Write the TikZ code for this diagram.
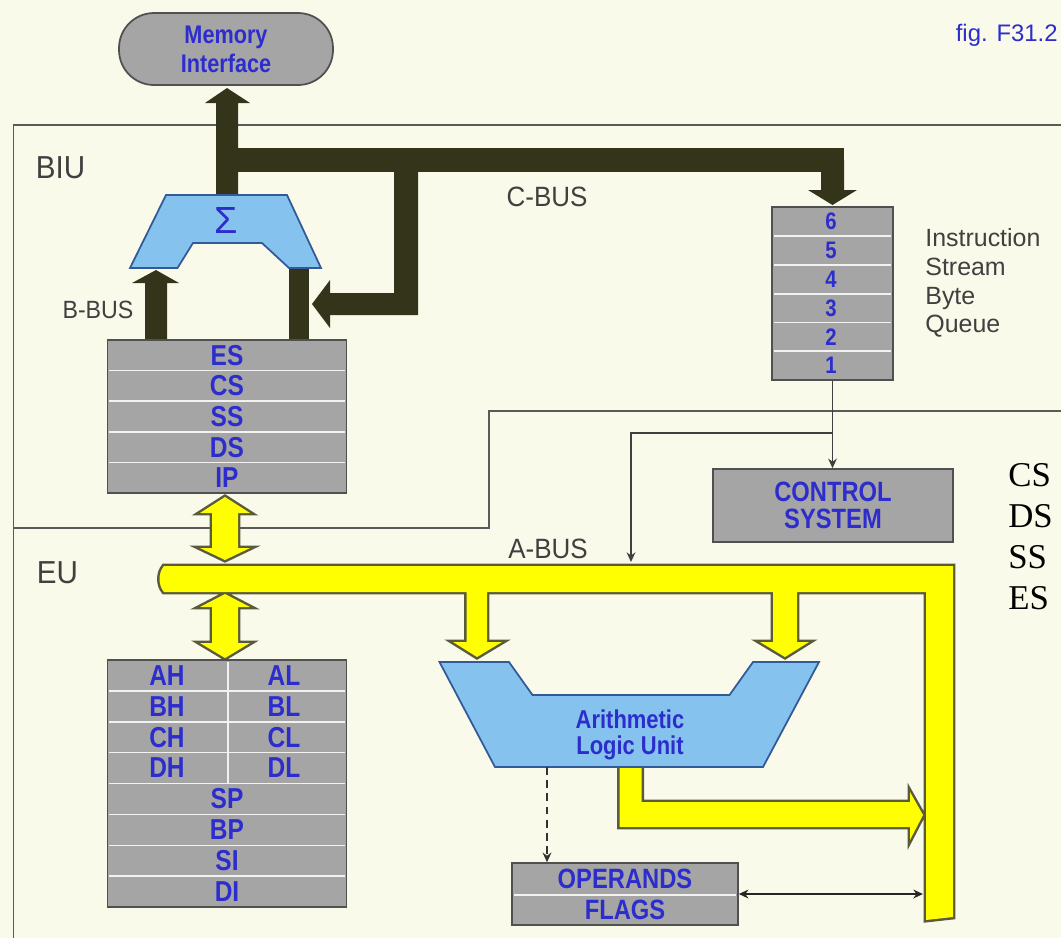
\documentclass[tikz,border=0pt]{standalone}
\usepackage{fontspec}
\setmainfont{Liberation Sans}
\newfontfamily\bluefont[FakeStretch=0.85]{Liberation Sans Bold}
\newfontfamily\grayfont[FakeStretch=0.93]{Liberation Sans}
\newfontfamily\serifface{Liberation Serif}
\usetikzlibrary{arrows.meta,calc}
\definecolor{bg}{RGB}{250,250,234}
\definecolor{boxgray}{RGB}{165,165,165}
\definecolor{boxedge}{RGB}{80,80,80}
\definecolor{txtblue}{RGB}{45,45,205}
\definecolor{labgray}{RGB}{64,64,64}
\definecolor{cbus}{RGB}{52,52,26}
\definecolor{alublue}{RGB}{134,194,238}
\definecolor{aluedge}{RGB}{50,90,150}
\definecolor{ybus}{RGB}{255,255,0}
\definecolor{yedge}{RGB}{90,90,60}
\definecolor{framec}{RGB}{90,90,90}
\tikzset{
  boxst/.style={draw=boxedge,fill=boxgray,line width=0.9pt,rectangle,inner sep=0pt},
  bluelbl/.style={text=txtblue,inner sep=0pt,align=center},
  graylbl/.style={text=labgray,inner sep=0pt},
  sepline/.style={draw=white!90!gray,line width=0.85pt},
  thinconn/.style={draw=black!75,line width=0.8pt},
  ypassA/.style={draw=yedge,line width=2.8pt},
  ypassB/.style={fill=ybus},
  smallhead/.style={-{Stealth[length=5.5pt,width=5pt]}},
}
\begin{document}
\begin{tikzpicture}[x=0.02cm,y=-0.02cm]
\useasboundingbox (0,0) rectangle (1061,938);
\fill[bg] (0,0) rectangle (1061,938);

% frames BIU / EU
\draw[draw=framec,line width=1.1pt] (1061,125) -- (13.5,125) -- (13.5,938);
\draw[draw=framec,line width=1.1pt] (13.5,528) -- (489,528) -- (489,411) -- (1061,411);

% memory interface
\node[boxst,rounded corners=0.7cm,minimum width=4.28cm,minimum height=1.44cm,line width=1pt,
      text=txtblue,align=center,font=\bluefont\fontsize{14.5}{16.4}\selectfont] (mem) at (226,49) {Memory\\Interface};

% C-BUS / B-BUS (dark)
\fill[cbus] (216,196) -- (216,103) -- (205,103) -- (227,88) -- (250,103) -- (238,103) -- (238,196) -- cycle;
\fill[cbus] (238,148) rectangle (844,172);
\fill[cbus] (821,160) -- (844,160) -- (844,190) -- (857,190) -- (832.5,205) -- (808,190) -- (821,190) -- cycle;
\fill[cbus] (394,160) -- (418,160) -- (418,315) -- (330,315) -- (330,328) -- (312,304) -- (330,280) -- (330,293) -- (394,293) -- cycle;
\fill[cbus] (145,345) -- (145,283) -- (132,283) -- (156,270) -- (179,283) -- (167,283) -- (167,345) -- cycle;
\fill[cbus] (289,262) rectangle (309,345);

% sigma adder
\draw[fill=alublue,draw=aluedge,line width=1pt] (166,195) -- (287,195) -- (321,268) -- (289,268) -- (262,243) -- (193,243) -- (177.5,268) -- (130,268) -- cycle;
\node[text=txtblue,font=\fontsize{21.5}{22}\selectfont,inner sep=0pt] (sigma) at (226,220) {Σ};

% segment registers
\node[boxst,minimum width=4.78cm,minimum height=3.06cm] (seg) at (227,416.5) {};
\foreach \y in {370.6,401.2,431.8,462.4} \draw[sepline] (109,\y) -- (345,\y);
\foreach \t [count=\i] in {ES,CS,SS,DS,IP}
  \node[bluelbl,font=\bluefont\fontsize{16.4}{18}\selectfont] (s\i) at (227,{340+30.6*(\i-0.5)}) {\t};

% instruction queue
\node[boxst,minimum width=2.42cm,minimum height=3.46cm] (queue) at (832.5,293.5) {};
\foreach \y in {236,265,294,322.5,351} \draw[sepline] (774,\y) -- (891,\y);
\foreach \t [count=\i] in {6,5,4,3,2,1}
  \node[bluelbl,font=\bluefont\fontsize{13.6}{15}\selectfont] (q\i) at (831,{207+28.83*(\i-0.5)}) {\t};
\node[graylbl,anchor=north west,align=left,font=\fontsize{14.2}{16.4}\selectfont] (isbq) at (925,228) {Instruction\\Stream\\Byte\\Queue};

% control system
\node[boxst,minimum width=4.8cm,minimum height=1.46cm,text=txtblue,align=center,
      font=\bluefont\fontsize{15.9}{15.3}\selectfont] (ctrl) at (833,505.5) {CONTROL\\SYSTEM};

% yellow A-BUS (union of pieces)
\foreach \p in {ypassA,ypassB}{
  \path[\p]
   (164,566) -- (953,566) -- (953,917) -- (926,920) -- (926,592) -- (164,592)
      .. controls (158,585) and (158,573) .. (164,566) -- cycle
   (466.5,580) -- (487,580) -- (487,642) -- (502,642) -- (477,657) -- (453,642) -- (466.5,642) -- cycle
   (773,580) -- (797,580) -- (797,642) -- (809,642) -- (785,657) -- (760,642) -- (773,642) -- cycle
   (225,497) -- (250,513) -- (238,513) -- (238,548) -- (250,548) -- (225,560) -- (200,548) -- (212,548) -- (212,513) -- (200,513) -- cycle
   (225,594) -- (250,607) -- (238,607) -- (238,643) -- (250,643) -- (225,658) -- (200,643) -- (212,643) -- (212,607) -- (200,607) -- cycle
   (619.6,760) -- (641.6,760) -- (641.6,802) -- (910,802) -- (910,792) -- (923,815) -- (910,840) -- (910,827) -- (619.6,827) -- cycle;
}

% ALU
\draw[fill=alublue,draw=aluedge,line width=1pt] (439.5,662) -- (509,662) -- (532.5,695) -- (729.5,695) -- (753,662) -- (819,662) -- (763,767) -- (495,767) -- cycle;
\node[bluelbl,font=\bluefont\fontsize{14.7}{14.9}\selectfont] (alu) at (630,735) {Arithmetic\\Logic Unit};
\coordinate (aluout) at (547,767);

% general registers
\node[boxst,minimum width=4.78cm,minimum height=4.94cm] (gen) at (227,783.5) {};
\foreach \k in {1,...,7} \draw[sepline] (109,{660+30.875*\k}) -- (345,{660+30.875*\k});
\draw[sepline] (228,662) -- (228,783.5);
\foreach \a/\b [count=\i] in {AH/AL,BH/BL,CH/CL,DH/DL}{
  \node[bluelbl,font=\bluefont\fontsize{16.4}{18}\selectfont] (gh\i) at (167,{660+30.875*(\i-0.5)}) {\a};
  \node[bluelbl,font=\bluefont\fontsize{16.4}{18}\selectfont] (gl\i) at (284,{660+30.875*(\i-0.5)}) {\b};
}
\foreach \t [count=\i] in {SP,BP,SI,DI}
  \node[bluelbl,font=\bluefont\fontsize{16.4}{18}\selectfont] (gx\i) at (227,{660+30.875*(\i+3.5)}) {\t};

% operands / flags
\node[boxst,minimum width=4.52cm,minimum height=1.24cm] (opf) at (625,894) {};
\draw[sepline] (514,895) -- (736,895);
\node[bluelbl,font=\bluefont\fontsize{15.9}{17}\selectfont] (oper) at (625,879) {OPERANDS};
\node[bluelbl,font=\bluefont\fontsize{15.9}{17}\selectfont] (flags) at (625,910) {FLAGS};

% thin connectors
\coordinate (tapy) at (0,433);
\coordinate (tap) at (queue.south |- tapy);
\coordinate (abtop) at (631,562);
\coordinate (abin) at (923,894);
\draw[thinconn,smallhead] (queue.south) -- (queue.south |- ctrl.north);
\draw[thinconn,smallhead] (tap) -| (abtop);
\draw[draw=black!80,line width=1.3pt,dash pattern=on 4.5pt off 3pt,-{Stealth[length=5.5pt,width=5pt]}] (aluout) -- (aluout |- opf.north);
\draw[draw=black!85,line width=0.9pt,{Stealth[length=5.5pt,width=5pt]}-{Stealth[length=5.5pt,width=5pt]}] (opf.east) -- (abin);

% labels
\node[graylbl,font=\grayfont\fontsize{18.1}{20}\selectfont] (biu) at (60.5,168) {BIU};
\node[graylbl,font=\grayfont\fontsize{18.1}{20}\selectfont] (eu) at (57.5,573) {EU};
\node[graylbl,font=\grayfont\fontsize{15.9}{18}\selectfont] (cbuslbl) at (547,197) {C-BUS};
\node[graylbl,font=\grayfont\fontsize{15.9}{18}\selectfont] (abuslbl) at (548,549) {A-BUS};
\node[graylbl,font=\grayfont\fontsize{14.2}{16}\selectfont] (bbuslbl) at (98,310) {B-BUS};
\node[text=txtblue,anchor=east,inner sep=0pt,font=\fontsize{13.6}{15}\selectfont] (fig) at (1058,35) {fig. F31.2};
\node[anchor=north west,align=left,inner sep=0pt,font=\serifface\fontsize{19.8}{23.2}\selectfont] (segnames) at (1008,463.5) {CS\\DS\\SS\\ES};
\end{tikzpicture}
\end{document}
